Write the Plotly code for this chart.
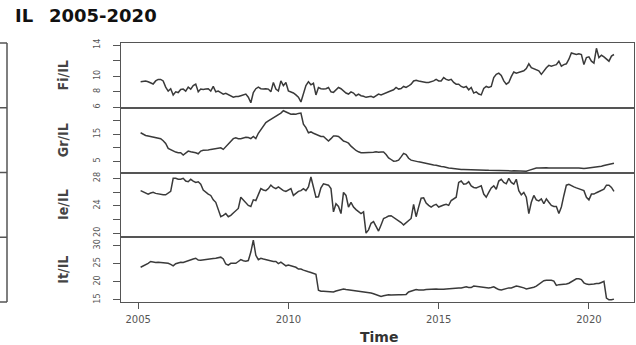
import plotly.graph_objects as go
from plotly.subplots import make_subplots

# Monthly ratios, Feb 2005 .. Nov 2020 (one row per year)
fi_il = [
    9.3, 9.4, 9.4, 9.3, 9.2, 9.0, 9.4, 9.6, 9.6, 9.4, 8.6,
    8.1, 8.4, 7.6, 8.0, 7.9, 8.3, 8.35, 8.1, 8.6, 8.35, 8.8, 9.0,
    8.0, 8.35, 8.3, 8.35, 8.4, 8.1, 8.7, 8.0, 8.1, 7.9, 7.7, 7.8,
    7.6, 7.5, 7.3, 7.4, 7.4, 7.5, 7.6, 7.7, 7.3, 6.6, 7.9, 8.4,
    8.6, 8.4, 8.35, 8.4, 8.35, 8.0, 9.2, 8.35, 8.1, 9.4, 8.8, 9.2,
    8.1, 8.0, 7.85, 7.6, 7.3, 6.7, 7.9, 8.8, 9.3, 8.9, 9.1, 7.6,
    8.56, 8.4, 8.35, 8.4, 8.56, 8.0, 7.93, 8.26, 8.56, 8.4, 8.13, 7.84,
    7.71, 8.0, 7.84, 7.5, 7.71, 7.5, 7.42, 7.29, 7.37, 7.42, 7.29, 7.5,
    7.71, 7.6, 7.71, 7.84, 8.0, 8.13, 8.26, 8.56, 8.35, 8.43, 8.69, 8.56,
    8.75, 8.98, 9.4, 9.5, 9.4, 9.3, 9.28, 9.2, 9.2, 9.28, 9.4, 9.6,
    9.4, 9.4, 9.83, 9.6, 9.5, 9.6, 9.2, 8.98, 8.98, 8.69, 8.56, 8.69,
    8.26, 8.56, 7.84, 8.0, 7.71, 7.6, 8.43, 8.69, 8.56, 8.69, 9.83, 10.25,
    10.4, 10.1, 9.4, 8.98, 9.2, 9.95, 10.55, 10.4, 10.5, 10.55, 10.7, 11.0,
    11.6, 11.1, 11.0, 10.9, 10.7, 10.25, 10.7, 11.1, 11.4, 11.3, 11.4, 11.5,
    11.94, 11.3, 11.5, 11.6, 12.2, 13.0, 12.9, 12.8, 12.9, 12.8, 11.5, 12.4,
    12.5, 11.94, 11.7, 13.6, 12.4, 12.7, 12.5, 12.2, 11.94, 12.6, 12.8,
]
gr_il = [
    15.6, 15.0, 14.6, 14.4, 14.2, 14.0, 13.95, 13.7, 13.4, 12.6, 11.6,
    9.8, 9.3, 8.76, 8.4, 8.14, 8.14, 7.3, 8.14, 8.76, 8.5, 8.4, 8.14,
    7.76, 8.76, 9.1, 9.1, 9.2, 9.4, 9.6, 9.6, 9.75, 10.0, 9.4, 10.4,
    11.2, 12.5, 13.4, 13.7, 13.4, 13.4, 13.8, 13.95, 13.8, 13.4, 14.2, 13.4,
    15.4, 16.6, 18.1, 19.4, 20.0, 20.6, 20.9, 21.6, 22.1, 22.9, 23.8, 23.4,
    22.9, 22.5, 22.6, 22.5, 22.8, 22.9, 18.8, 17.5, 15.6, 15.9, 15.4, 14.9,
    14.4, 14.2, 14.2, 13.4, 12.5, 13.4, 14.4, 14.4, 14.2, 13.4, 12.5, 12.2,
    11.7, 10.6, 9.6, 9.0, 8.5, 8.14, 8.14, 8.14, 8.14, 8.14, 8.3, 8.5,
    8.3, 8.4, 8.4, 7.5, 6.26, 5.64, 5.0, 5.1, 5.4, 6.6, 7.9, 7.5,
    6.1, 5.4, 5.1, 5.0, 4.76, 4.64, 4.4, 4.14, 3.9, 3.76, 3.6, 3.5,
    3.13, 3.0, 2.9, 2.6, 2.5, 2.4, 2.26, 2.1, 1.9, 1.9, 1.9, 1.9,
    1.9, 1.85, 1.8, 1.8, 1.75, 1.7, 1.65, 1.65, 1.6, 1.55, 1.5, 1.5,
    1.45, 1.4, 1.4, 1.4, 1.35, 1.4, 1.45, 1.4, 1.35, 1.4, 1.3, 1.3,
    1.6, 1.9, 2.26, 2.5, 2.5, 2.6, 2.76, 2.6, 2.5, 2.5, 2.5, 2.6,
    2.76, 2.6, 2.5, 2.6, 2.76, 2.76, 2.76, 2.6, 2.5, 2.4, 2.26, 2.4,
    2.5, 2.6, 2.76, 2.76, 2.76, 3.13, 3.38, 3.6, 3.76, 4.0, 4.26,
]
ie_il = [
    26.2, 26.05, 25.95, 25.7, 25.85, 25.95, 25.8, 25.7, 25.6, 25.6, 25.6,
    25.8, 26.1, 28.0, 28.0, 27.86, 27.86, 28.0, 27.6, 27.5, 27.86, 27.6, 27.4,
    27.5, 27.14, 26.3, 25.95, 25.7, 25.5, 24.86, 24.5, 23.33, 22.4, 22.6, 22.86,
    22.4, 22.6, 22.95, 23.33, 23.6, 25.24, 24.86, 24.4, 24.05, 23.9, 24.86, 24.76,
    25.7, 26.5, 26.3, 26.2, 26.5, 27.0, 26.67, 26.5, 26.75, 26.43, 26.2, 26.1,
    26.3, 26.5, 25.5, 25.8, 26.1, 26.2, 26.5, 26.2, 26.75, 28.2, 26.9, 25.24,
    25.3, 26.6, 27.2, 27.14, 27.0, 26.5, 23.1, 24.29, 23.9, 22.86, 25.95, 25.5,
    23.81, 24.5, 23.81, 23.43, 23.1, 22.86, 23.1, 20.0, 20.48, 21.43, 21.67, 20.95,
    20.3, 21.2, 22.14, 22.3, 22.5, 22.55, 22.3, 22.1, 21.8, 21.55, 21.2, 21.5,
    21.8, 22.14, 24.2, 22.4, 23.8, 25.1, 25.15, 24.4, 24.05, 23.8, 24.05, 24.2,
    23.81, 23.9, 24.1, 24.2, 24.05, 24.76, 25.0, 25.24, 27.4, 27.6, 27.14, 27.2,
    27.5, 26.9, 26.67, 26.6, 26.75, 26.9, 25.7, 25.24, 25.95, 26.6, 26.9, 26.4,
    27.6, 27.86, 27.4, 27.2, 28.0, 27.4, 27.14, 27.86, 26.2, 25.6, 25.95, 25.24,
    22.86, 24.5, 25.5, 24.86, 24.7, 25.0, 24.29, 25.0, 24.5, 24.05, 23.9, 23.9,
    22.86, 23.81, 25.5, 27.0, 27.14, 27.0, 26.75, 26.6, 26.43, 26.3, 26.2, 25.24,
    24.86, 25.7, 25.7, 25.9, 26.1, 26.2, 26.43, 27.0, 27.0, 26.67, 26.1,
]
it_il = [
    24.0, 24.3, 24.6, 25.1, 25.6, 25.4, 25.3, 25.4, 25.3, 25.4, 25.2,
    25.1, 24.8, 24.4, 25.0, 25.2, 25.4, 25.3, 25.6, 25.86, 26.1, 26.3, 26.5,
    26.0, 25.95, 26.0, 26.1, 26.2, 26.3, 26.4, 26.5, 26.7, 26.8, 26.3, 24.9,
    24.6, 25.1, 25.1, 25.1, 25.6, 26.1, 25.8, 25.7, 25.86, 28.2, 31.5, 27.3,
    26.1, 26.5, 26.3, 26.1, 25.86, 25.6, 25.6, 25.6, 25.0, 25.4, 24.8, 24.4,
    24.6, 24.4, 24.2, 24.0, 23.5, 23.5, 23.2, 22.9, 22.75, 22.55, 22.3, 22.08,
    17.64, 17.36, 17.36, 17.3, 17.17, 17.08, 17.17, 17.45, 17.64, 17.9, 18.0, 17.83,
    17.74, 17.64, 17.55, 17.45, 17.36, 17.36, 17.3, 17.08, 17.0, 16.89, 16.7, 16.5,
    16.2, 15.94, 16.13, 16.32, 16.42, 16.32, 16.42, 16.32, 16.42, 16.42, 16.5, 16.5,
    17.17, 17.45, 17.64, 17.83, 17.74, 17.64, 17.74, 17.83, 17.9, 18.0, 18.0, 18.0,
    17.9, 17.83, 17.9, 18.0, 18.1, 18.1, 18.2, 18.2, 18.3, 18.3, 18.5, 18.6,
    18.4, 18.4, 18.8, 18.7, 18.6, 18.5, 18.5, 18.4, 18.3, 18.4, 18.6, 18.2,
    17.83, 17.74, 18.0, 18.2, 18.3, 18.3, 18.5, 18.8, 18.7, 18.6, 18.3, 18.0,
    18.1, 18.3, 18.5, 18.8, 19.25, 19.9, 20.3, 20.4, 20.5, 20.4, 20.2, 19.0,
    19.2, 19.25, 19.25, 19.4, 19.6, 20.0, 20.5, 20.8, 20.85, 20.6, 19.7, 19.35,
    19.25, 19.25, 19.35, 19.5, 19.5, 19.8, 20.1, 15.5, 15.0, 15.0, 15.2,
]

series_names = ["Fi/IL", "Gr/IL", "Ie/IL", "It/IL"]
series_values = [fi_il, gr_il, ie_il, it_il]
y_ranges = [[5.95, 14.28], [0.8, 24.9], [19.4, 28.85], [14.4, 32.3]]
y_tickvals = [[6, 8, 10, 12, 14], [5, 10, 15, 20], [20, 22, 24, 26, 28], [15, 20, 25, 30]]
y_ticktext = [["6", "8", "10", "", "14"], ["5", "", "15", ""], ["20", "", "24", "", "28"],
              ["15", "20", "25", "30"]]
x_tickvals = [2005, 2010, 2015, 2020]
x_ticktext = ["2005", "2010", "2015", "2020"]
start_year, start_month = 2005, 2

title_left = "IL"
title_right = "2005-2020"
x_title = "Time"

W, H = 636, 345
ML, MR, MT, MB = 121, 2, 43, 43
PW, PH = W - ML - MR, H - MT - MB


def px_x(p):
    return (p - ML) / PW


def px_y(p):
    return (H - MB - p) / PH


narrow = "Liberation Sans Narrow, DejaVu Sans Condensed, Arial Narrow, sans-serif"
frame = "#555555"

fig = make_subplots(rows=4, cols=1, shared_xaxes=True, vertical_spacing=0)

for i, (name, vals) in enumerate(zip(series_names, series_values)):
    t = [start_year + (start_month - 1 + k) / 12 for k in range(len(vals))]
    fig.add_trace(go.Scatter(x=t, y=vals, mode="lines", name=name,
                             line=dict(color="#3a3a3a", width=1.5),
                             showlegend=False, hoverinfo="skip"),
                  row=i + 1, col=1)
    fig.update_yaxes(range=y_ranges[i], tickvals=y_tickvals[i], ticktext=y_ticktext[i],
                     ticks="outside", ticklen=7, tickwidth=1, tickcolor=frame,
                     tickangle=-90, ticklabelstandoff=9,
                     tickfont=dict(family=narrow, size=9, color="#555"),
                     showline=True, linewidth=1, linecolor=frame, mirror=True,
                     showgrid=False, zeroline=False, automargin=False,
                     row=i + 1, col=1)
    fig.update_xaxes(range=[2004.43, 2021.5], showline=True, linewidth=1,
                     linecolor=frame, mirror=True, showgrid=False, zeroline=False,
                     automargin=False, ticks="" if i < 3 else "outside",
                     row=i + 1, col=1)

fig.update_xaxes(tickvals=x_tickvals, ticktext=x_ticktext, ticklen=6, tickcolor=frame,
                 tickfont=dict(family="DejaVu Sans", size=10, color="#555"),
                 showticklabels=True, ticklabelstandoff=2, row=4, col=1)

annotations = []
for i, name in enumerate(series_names):
    dom = fig.layout["yaxis" + ("" if i == 0 else str(i + 1))].domain
    annotations.append(dict(text="<b>%s</b>" % name, xref="paper", yref="paper",
                            x=px_x(63), y=(dom[0] + dom[1]) / 2, textangle=-90,
                            showarrow=False, xanchor="center", yanchor="middle",
                            font=dict(family=narrow, size=14, color="#444")))
annotations.append(dict(text="<b>%s</b>" % title_left, xref="paper", yref="paper",
                        x=px_x(13), y=px_y(16), xanchor="left", yanchor="middle",
                        showarrow=False,
                        font=dict(family="DejaVu Sans", size=18, color="#111")))
annotations.append(dict(text="<b>%s</b>" % title_right, xref="paper", yref="paper",
                        x=px_x(47), y=px_y(16), xanchor="left", yanchor="middle",
                        showarrow=False,
                        font=dict(family="DejaVu Sans", size=18, color="#111")))
annotations.append(dict(text="<b>%s</b>" % x_title, xref="paper", yref="paper",
                        x=0.502, y=px_y(337), xanchor="center", yanchor="middle",
                        showarrow=False,
                        font=dict(family="DejaVu Sans", size=14, color="#333")))

# edge of the neighbouring panel block at far left
shapes = [dict(type="line", xref="paper", yref="paper", x0=px_x(7), x1=px_x(7),
               y0=0, y1=1, line=dict(color=frame, width=1.5))]
for yb in [0, 0.25, 0.5, 0.75, 1]:
    shapes.append(dict(type="line", xref="paper", yref="paper", x0=px_x(-2), x1=px_x(7),
                       y0=yb, y1=yb, line=dict(color=frame, width=1.5)))

fig.update_layout(width=W, height=H, margin=dict(l=ML, r=MR, t=MT, b=MB),
                  paper_bgcolor="white", plot_bgcolor="white",
                  annotations=annotations, shapes=shapes, showlegend=False)

# remove the browser's default 8px page margin so the figure sits at the window origin
fig.write_html("out.html", config={"displayModeBar": False},
               post_script="document.body.style.margin='0';document.body.style.overflow='hidden';")
